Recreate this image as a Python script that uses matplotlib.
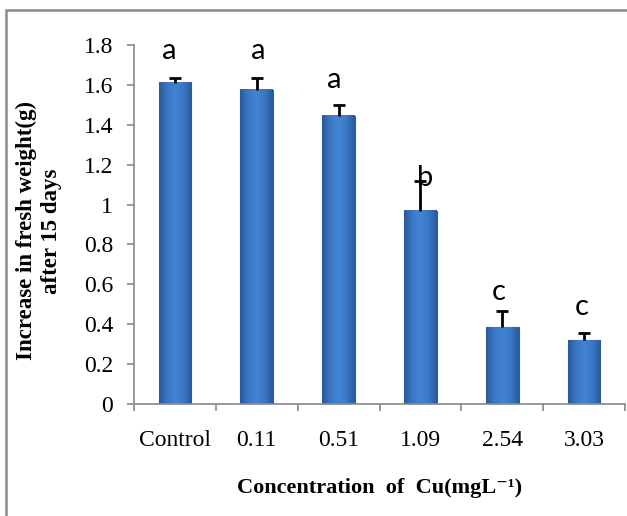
import matplotlib
matplotlib.use("Agg")
import matplotlib.pyplot as plt
import numpy as np
from matplotlib.patches import Rectangle
from matplotlib.colors import LinearSegmentedColormap

categories = ["Control", "0.11", "0.51", "1.09", "2.54", "3.03"]
values = [1.61, 1.575, 1.445, 0.97, 0.385, 0.32]
errors = [0.025, 0.06, 0.055, 0.15, 0.08, 0.035]
letters = ["a", "a", "a", "b", "c", "c"]
letter_y = [1.77, 1.77, 1.625, 1.135, 0.56, 0.485]
letter_dx = [-0.07, 0.02, -0.05, 0.06, -0.04, -0.03]

W, H = 627, 516
fig = plt.figure(figsize=(W/100, H/100), dpi=100)
ax = fig.add_axes([134/W, 1-404/H, (625-134)/W, (404-45)/H])

x = np.arange(len(categories))
bars = ax.bar(x, values, width=0.4, color="#3b78c4", edgecolor="#2c5e9e",
              linewidth=0.8, zorder=2)

# horizontal shading for bars
cmap = LinearSegmentedColormap.from_list("b", ["#2b5a98", "#3a78c6", "#4384d2", "#3a78c6", "#2b5a98"])
grad = np.linspace(0, 1, 64).reshape(1, -1)
for b in bars:
    x0, w, h = b.get_x(), b.get_width(), b.get_height()
    ax.imshow(grad, cmap=cmap, aspect="auto", extent=(x0, x0+w, 0, h),
              zorder=2.5, interpolation="bicubic")
ax.set_aspect("auto")

eb = ax.errorbar(x, values, yerr=[np.zeros(len(values)), errors], fmt="none",
                 ecolor="black", elinewidth=2, capsize=4, capthick=2, zorder=3)
eb[1][0].set_visible(False)

for xi, l, ly, dx in zip(x, letters, letter_y, letter_dx):
    ax.text(xi+dx, ly, l, ha="center", va="center", fontsize=21,
            family=["Lato", "DejaVu Sans"], zorder=4)

serif = ["Liberation Serif", "DejaVu Serif"]
ax.set_xlim(-0.5, 5.5)
ax.set_ylim(0, 1.8)
ax.set_yticks(np.arange(0, 1.81, 0.2))
ax.set_yticklabels(["0", "0.2", "0.4", "0.6", "0.8", "1", "1.2", "1.4", "1.6", "1.8"],
                   family=serif, fontsize=17)
ax.set_xticks(x)
ax.set_xticklabels(categories, family=serif, fontsize=17)
ax.set_xticks(np.arange(-0.5, 5.6, 1), minor=True)
ax.tick_params(axis="x", which="major", length=0, pad=19)
ax.tick_params(axis="x", which="minor", length=5, color="#888888", width=1.2)
ax.tick_params(axis="y", length=5, color="#888888", width=1.2, pad=10)

for s in ["top", "right"]:
    ax.spines[s].set_visible(False)
for s in ["left", "bottom"]:
    ax.spines[s].set_color("#888888")
    ax.spines[s].set_linewidth(1.2)

ax.set_xlabel("Concentration  of  Cu(mgL\u207b\u00b9)", family=serif,
              fontsize=16, fontweight="bold")
ax.xaxis.set_label_coords(0.5, -0.205)
fig.text(39/W, 1-231/H, "Increase in fresh weight(g)\nafter 15 days", family=serif,
         fontsize=16.5, fontweight="bold", linespacing=1.2, rotation=90,
         ha="center", va="center", multialignment="center")

fig.patches.append(Rectangle((6/W, -0.2), 1.3, 1.2 - 10/H, transform=fig.transFigure,
                             fill=False, edgecolor="#8a8a8a", linewidth=1.8))

fig.savefig("out.png", dpi=100)
